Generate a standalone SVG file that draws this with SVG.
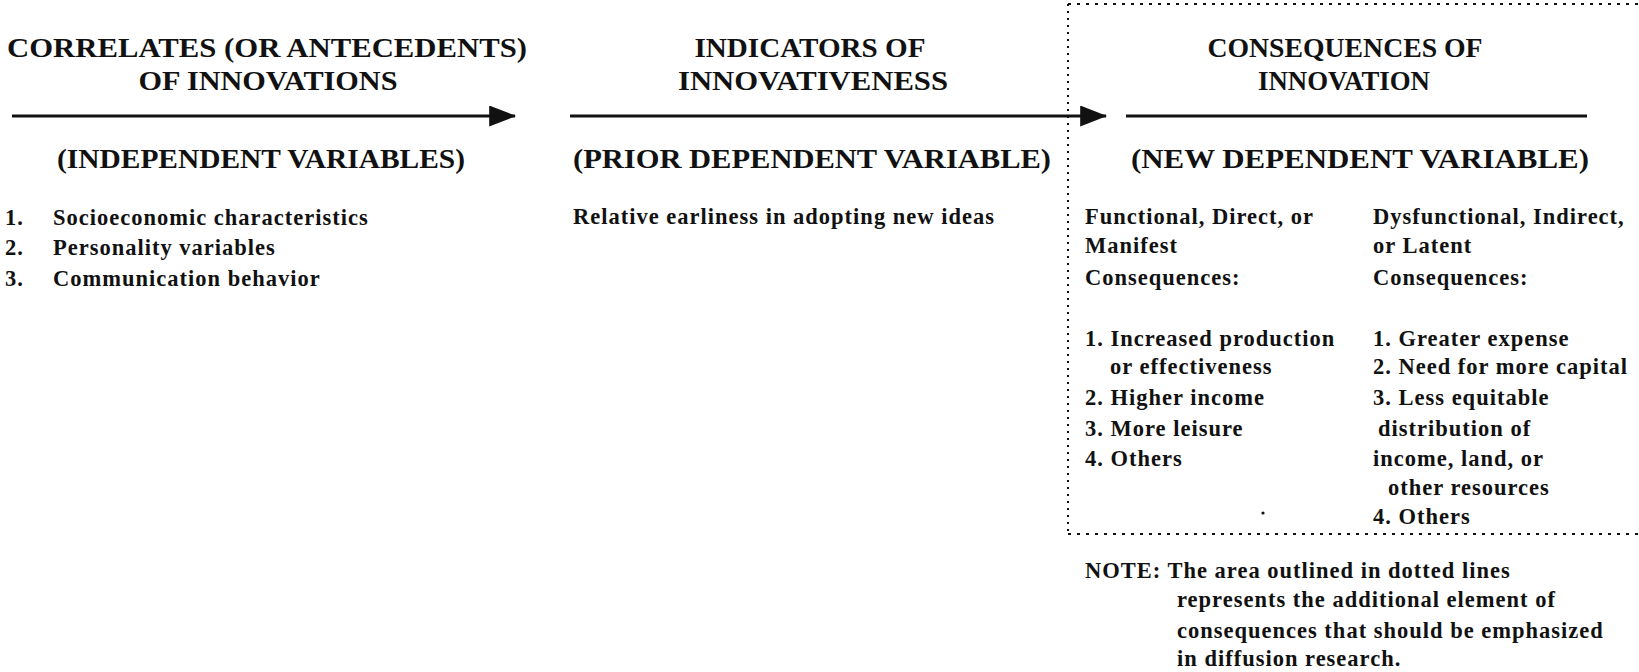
<svg xmlns="http://www.w3.org/2000/svg" width="1639" height="672" viewBox="0 0 1639 672">
<style>
  text { font-family: "Liberation Serif", "Times New Roman", serif; fill: #111; }
  .h { font-size: 28px; font-weight: bold; text-anchor: middle; }
  .b { font-size: 22.5px; font-weight: bold; letter-spacing: 1px; }
  .ln { stroke: #111; stroke-width: 3; fill: none; }
  .dot { stroke: #111; stroke-width: 2; fill: none; }
</style>
<defs>
  <marker id="ah" markerWidth="9" markerHeight="7" refX="8.6" refY="3.5" orient="auto" markerUnits="strokeWidth">
    <path d="M0,0 L9,3.5 L0,7 Z" fill="#111"/>
  </marker>
</defs>
<rect width="1639" height="672" fill="#fff"/>

<g id="connectors">
  <line class="ln" x1="12" y1="116" x2="515" y2="116" marker-end="url(#ah)"/>
  <line class="ln" x1="570" y1="116" x2="1106" y2="116" marker-end="url(#ah)"/>
  <line class="ln" x1="1126" y1="116" x2="1587" y2="116"/>
</g>

<g id="dotted-area">
  <line class="dot" x1="1068" y1="4" x2="1639" y2="4" stroke-dasharray="3 6"/>
  <line class="dot" x1="1068" y1="4" x2="1068" y2="534" stroke-dasharray="2 5"/>
  <line class="dot" x1="1068" y1="534" x2="1639" y2="534" stroke-dasharray="3 6"/>
</g>

<g id="node-correlates">
  <text class="h" x="267" y="57" textLength="520" lengthAdjust="spacingAndGlyphs">CORRELATES (OR ANTECEDENTS)</text>
  <text class="h" x="268" y="90" textLength="259" lengthAdjust="spacingAndGlyphs">OF INNOVATIONS</text>
  <text class="h" x="261" y="168" textLength="408" lengthAdjust="spacingAndGlyphs">(INDEPENDENT VARIABLES)</text>
  <text class="b" x="5" y="225">1.</text>
  <text class="b" x="53" y="225">Socioeconomic characteristics</text>
  <text class="b" x="5" y="255">2.</text>
  <text class="b" x="53" y="255">Personality variables</text>
  <text class="b" x="5" y="286">3.</text>
  <text class="b" x="53" y="286">Communication behavior</text>
</g>

<g id="node-indicators">
  <text class="h" x="810" y="57" textLength="231" lengthAdjust="spacingAndGlyphs">INDICATORS OF</text>
  <text class="h" x="813" y="90" textLength="270" lengthAdjust="spacingAndGlyphs">INNOVATIVENESS</text>
  <text class="h" x="812" y="168" textLength="478" lengthAdjust="spacingAndGlyphs">(PRIOR DEPENDENT VARIABLE)</text>
  <text class="b" x="573" y="224">Relative earliness in adopting new ideas</text>
</g>

<g id="node-consequences">
  <text class="h" x="1345" y="57" textLength="275" lengthAdjust="spacingAndGlyphs">CONSEQUENCES OF</text>
  <text class="h" x="1344" y="90" textLength="172" lengthAdjust="spacingAndGlyphs">INNOVATION</text>
  <text class="h" x="1360" y="168" textLength="458" lengthAdjust="spacingAndGlyphs">(NEW DEPENDENT VARIABLE)</text>

  <text class="b" x="1085" y="224">Functional, Direct, or</text>
  <text class="b" x="1085" y="253">Manifest</text>
  <text class="b" x="1085" y="285">Consequences:</text>
  <text class="b" x="1085" y="346">1. Increased production</text>
  <text class="b" x="1110" y="374">or effectiveness</text>
  <text class="b" x="1085" y="405">2. Higher income</text>
  <text class="b" x="1085" y="436">3. More leisure</text>
  <text class="b" x="1085" y="466">4. Others</text>

  <text class="b" x="1373" y="224">Dysfunctional, Indirect,</text>
  <text class="b" x="1373" y="253">or Latent</text>
  <text class="b" x="1373" y="285">Consequences:</text>
  <text class="b" x="1373" y="346">1. Greater expense</text>
  <text class="b" x="1373" y="374">2. Need for more capital</text>
  <text class="b" x="1373" y="405">3. Less equitable</text>
  <text class="b" x="1378" y="436">distribution of</text>
  <text class="b" x="1373" y="466">income, land, or</text>
  <text class="b" x="1388" y="495">other resources</text>
  <text class="b" x="1373" y="524">4. Others</text>
  <circle cx="1263" cy="513" r="1.6" fill="#111"/>
</g>

<g id="note">
  <text class="b" x="1085" y="578">NOTE: The area outlined in dotted lines</text>
  <text class="b" x="1177" y="607">represents the additional element of</text>
  <text class="b" x="1177" y="638">consequences that should be emphasized</text>
  <text class="b" x="1177" y="666">in diffusion research.</text>
</g>
</svg>
